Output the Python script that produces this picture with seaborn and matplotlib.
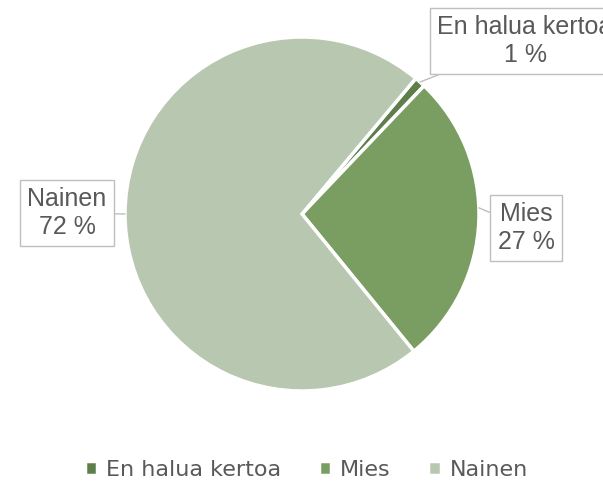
import numpy as np
import matplotlib.pyplot as plt
import seaborn as sns

sns.set_style('white')
plt.rcParams['font.family'] = ['DejaVu Sans']

categories = ['En halua kertoa', 'Mies', 'Nainen']
values = [1, 27, 72]
colors = ['#5e7f4a', '#7a9e62', '#b8c7b0']
text_grey = '#595959'

fig = plt.figure(figsize=(6.03, 4.87), dpi=100)
W, H = 603, 487
cx, cy, r = 302, 214, 177
ax = fig.add_axes([(cx - r) / W, (H - cy - r) / H, 2 * r / W, 2 * r / H])

wedges, _ = ax.pie(values, colors=colors, startangle=50, counterclock=False,
                   radius=1, wedgeprops=dict(edgecolor='white', linewidth=2.5))
ax.set_xlim(-1, 1)
ax.set_ylim(-1, 1)
ax.set_aspect('equal')
ax.axis('off')

# label boxes (centre in pixels from the top-left) and anchor angle on the wedge
label_pos = {'En halua kertoa': (525, 41), 'Mies': (526, 228), 'Nainen': (67, 213)}
label_ang = {'En halua kertoa': None, 'Mies': 2, 'Nainen': 180}
for w, cat, v in zip(wedges, categories, values):
    ang = label_ang[cat]
    if ang is None:
        ang = (w.theta1 + w.theta2) / 2
    xy = (np.cos(np.radians(ang)), np.sin(np.radians(ang)))
    tx, ty = label_pos[cat]
    ax.annotate(f'{cat}\n{v} %', xy=xy, xycoords='data',
                xytext=(tx, H - ty), textcoords='figure pixels',
                ha='center', va='center', fontsize=18, color=text_grey,
                family=['Liberation Sans Narrow', 'Liberation Sans'],
                linespacing=1.2, annotation_clip=False,
                bbox=dict(boxstyle='square,pad=0.3', fc='white', ec='#bfbfbf', lw=1),
                arrowprops=dict(arrowstyle='-', color='#bfbfbf', lw=1,
                                shrinkA=0, shrinkB=0))

fig.legend(wedges, categories, loc='center', bbox_to_anchor=(0.508, 1 - 470 / H),
           ncol=3, frameon=False, fontsize=16, labelcolor=text_grey,
           handlelength=0.55, handleheight=0.55, handletextpad=0.4, columnspacing=1.7)

fig.savefig('out.png', dpi=100)
